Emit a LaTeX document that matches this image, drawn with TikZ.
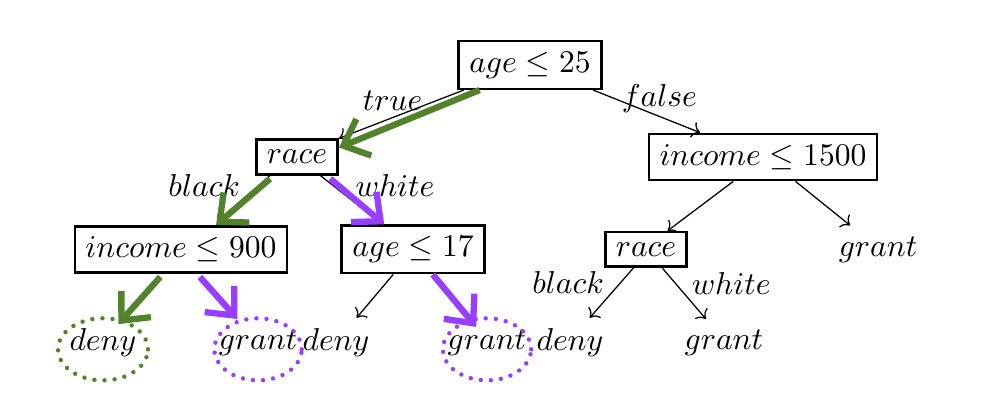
\documentclass[tikz,border=0pt]{standalone}
\usepackage{tikz}
\usetikzlibrary{arrows.meta}
\usepackage{amsmath}
\usepackage{amssymb}
\usepackage{xcolor}

\definecolor{pathgreen}{RGB}{82,130,44}
\definecolor{pathpurple}{RGB}{152,62,255}

\begin{document}
\begin{tikzpicture}
        % Definitions
        \def\rowA{3.911}
        \def\rowB{2.889}
        \def\rowC{1.862}
        \def\rowD{0.822}

        % Styles
        \tikzstyle{test} = [draw, thick, black, inner sep=0.333em]
        \tikzstyle{leaf} = [inner sep=0.333em]
        \tikzstyle{edge} = [draw, ->, thin, black]
        \tikzstyle{hilite} = [draw, line width=2pt, -{Straight Barb[length=7pt, width=12.5pt]}]
        \tikzstyle{ring} = [line width=1.4pt, line cap=round, dash pattern=on 0pt off 3.2pt]
        \tikzstyle{lbl} = [inner sep=2pt]

        \useasboundingbox (0,0) rectangle (11,4.633);

        % Test nodes
        \node[test] (root) at (5.889, \rowA) {$age \leq 25$};
        \node[test] (race1) at (3.300, \rowB) {$race$};
        \node[test] (inc1500) at (8.478, \rowB) {$income \leq 1500$};
        \node[test] (inc900) at (2.011, \rowC) {$income \leq 900$};
        \node[test] (age17) at (4.589, \rowC) {$age \leq 17$};
        \node[test] (race2) at (7.178, \rowC) {$race$};

        % Leaves
        \node[leaf] (grantR) at (9.756, \rowC) {$grant$};
        \node[leaf] (deny1) at (1.144, \rowD) {$deny$};
        \node[leaf] (grant1) at (2.867, \rowD) {$grant$};
        \node[leaf] (deny2) at (3.733, \rowD) {$deny$};
        \node[leaf] (grant2) at (5.411, \rowD) {$grant$};
        \node[leaf] (deny3) at (6.333, \rowD) {$deny$};
        \node[leaf] (grant3) at (8.044, \rowD) {$grant$};

        % Plain edges
        \draw[edge] ([xshift=2pt]root.south west) -- (race1.north east) node[lbl, pos=0.57, above=0pt] {$true$};
        \draw[edge] ([xshift=-3pt]root.south east) -- ([xshift=-7mm]inc1500.north) node[lbl, pos=0.62, above=-1pt] {$false$};
        \draw[edge] ([xshift=-3mm]race1.south) -- ([xshift=4.1mm]inc900.north) node[lbl, pos=0.2, left=4pt] {$black$};
        \draw[edge] ([xshift=2.6mm]race1.south) -- ([xshift=-3.4mm]age17.north) node[lbl, pos=0.2, right=5pt] {$white$};
        \draw[edge] ([xshift=-2.2mm]age17.south) -- ([xshift=2.3mm]deny2.north);
        \draw[edge] ([xshift=-3.3mm]inc1500.south) -- ([xshift=2.4mm]race2.north);
        \draw[edge] ([xshift=3.6mm]inc1500.south) -- ([xshift=-3.1mm]grantR.north);
        \draw[edge] ([xshift=-1.4mm]race2.south) -- ([xshift=2.2mm]deny3.north) node[lbl, pos=0.3, left=3pt] {$black$};
        \draw[edge] ([xshift=1.8mm]race2.south) -- ([xshift=-2mm]grant3.north) node[lbl, pos=0.3, right=3pt] {$white$};

        % Highlighted paths
        \draw[hilite, pathgreen] ([xshift=7pt]root.south west) -- ([yshift=3pt]race1.east);
        \draw[hilite, pathgreen] ([xshift=-3mm,yshift=-1pt]race1.south) -- ([xshift=3.9mm]inc900.north);
        \draw[hilite, pathgreen] ([xshift=-2.3mm,yshift=-1pt]inc900.south) -- ([xshift=1.7mm,yshift=-2pt]deny1.north);
        \draw[hilite, pathpurple] ([xshift=3.7mm,yshift=-1pt]race1.south) -- ([xshift=-3.2mm]age17.north);
        \draw[hilite, pathpurple] ([xshift=2.1mm,yshift=-1pt]inc900.south) -- ([xshift=-2.3mm]grant1.north);
        \draw[hilite, pathpurple] ([xshift=2.2mm]age17.south) -- ([xshift=-1.2mm,yshift=-2.5pt]grant2.north);

        % Rings round the reached leaves
        \draw[ring, pathgreen] ([yshift=-2pt]deny1.center) ellipse (0.5 and 0.345);
        \draw[ring, pathpurple] ([yshift=-2pt]grant1.center) ellipse (0.485 and 0.345);
        \draw[ring, pathpurple] ([yshift=-2pt]grant2.center) ellipse (0.49 and 0.345);

    \end{tikzpicture}
\end{document}
